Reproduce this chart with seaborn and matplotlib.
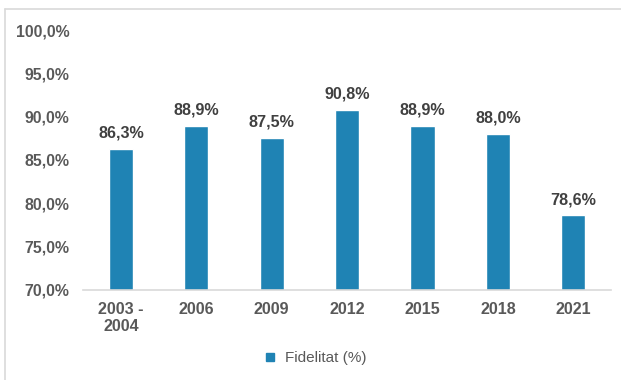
import matplotlib
matplotlib.use("Agg")
import matplotlib.pyplot as plt
from matplotlib.lines import Line2D
import seaborn as sns
import pandas as pd

# Survey waves and fidelity percentages
periods = ["2003 -\n2004", "2006", "2009", "2012", "2015", "2018", "2021"]
fidelitat = [86.3, 88.9, 87.5, 90.8, 88.9, 88.0, 78.6]
y_ticks = [70, 75, 80, 85, 90, 95, 100]
series_name = "Fidelitat (%)"

bar_color = "#1F83B4"
text_gray = "#595959"
label_gray = "#404040"
line_gray = "#D9D9D9"

sns.set_theme(style="white")
plt.rcParams["font.family"] = ["Liberation Sans", "DejaVu Sans"]

df = pd.DataFrame({"period": periods, "value": fidelitat})

fig = plt.figure(figsize=(6.21, 3.80), dpi=100)
ax = fig.add_axes([0.134, 0.237, 0.850, 0.684])

sns.barplot(data=df, x="period", y="value", color=bar_color, width=0.32,
            saturation=1, ax=ax, label=series_name)

ax.set_ylim(70, 100)
ax.set_yticks(y_ticks)
ax.set_yticklabels([f"{t:.1f}%".replace(".", ",") for t in y_ticks],
                   fontsize=11.4, fontweight="bold", color=text_gray)
ax.set_xticks(range(len(periods)))
ax.set_xticklabels(periods, fontsize=11.6, fontweight="bold", color=text_gray,
                   linespacing=1.15)
ax.tick_params(axis="both", length=0)
ax.tick_params(axis="y", pad=10)
ax.tick_params(axis="x", pad=9)
ax.set_xlabel("")
ax.set_ylabel("")

for side in ["top", "right", "left"]:
    ax.spines[side].set_visible(False)
ax.spines["bottom"].set_color(line_gray)
ax.spines["bottom"].set_linewidth(1.2)

# Value labels above each bar
for i, v in enumerate(fidelitat):
    ax.annotate(f"{v:.1f}%".replace(".", ","), (i, v), xytext=(0, 6),
                textcoords="offset points", ha="center", va="bottom",
                fontsize=11.6, fontweight="bold", color=label_gray)

# Legend under the plot
if ax.legend_:
    ax.legend_.remove()
handle = Line2D([], [], marker="s", linestyle="none", markersize=5.5,
                markerfacecolor=bar_color, markeredgecolor=bar_color)
fig.legend([handle], [series_name], loc="center", bbox_to_anchor=(0.50, 0.058),
           frameon=False, handletextpad=0.0, fontsize=11,
           labelcolor=text_gray)

# Light frame around the chart area
fig.add_artist(Line2D([0.008, 1.0], [0.976, 0.976], color=line_gray,
                      linewidth=1.2, transform=fig.transFigure))
fig.add_artist(Line2D([0.008, 0.008], [0.0, 0.976], color=line_gray,
                      linewidth=1.2, transform=fig.transFigure))

fig.savefig("out.png", dpi=100, facecolor="white")
